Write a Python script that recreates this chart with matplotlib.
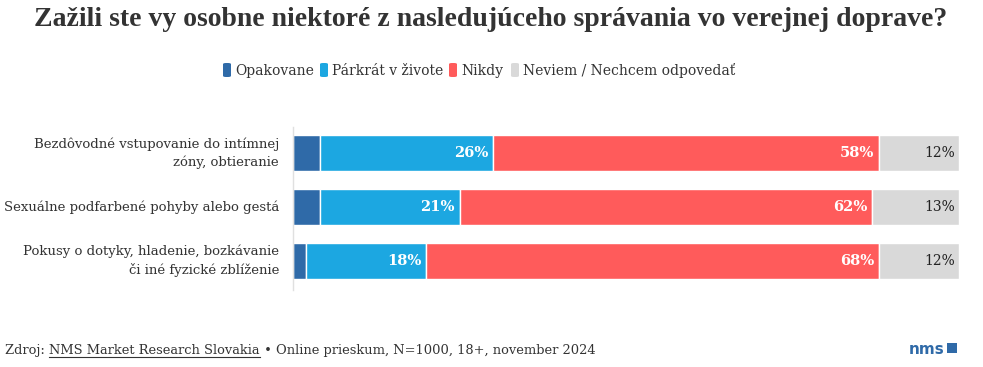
import numpy as np
import matplotlib
matplotlib.use("Agg")
from matplotlib import pyplot as plt
from matplotlib.patches import FancyBboxPatch, Rectangle

categories = ["Bezdôvodné vstupovanie do intímnej\nzóny, obtieranie",
              "Sexuálne podfarbené pohyby alebo gestá",
              "Pokusy o dotyky, hladenie, bozkávanie\nči iné fyzické zblíženie"]
series_names = ["Opakovane", "Párkrát v živote", "Nikdy", "Neviem / Nechcem odpovedať"]
opakovane = [4, 4, 2]
parkrat = [26, 21, 18]
nikdy = [58, 62, 68]
neviem = [12, 13, 12]

colors = ["#2f6aa8", "#1ca7e1", "#ff5b5b", "#d9d9d9"]
W, H = 983, 367
BODY = "DejaVu Serif"
plt.rcParams['font.family'] = [BODY, 'Liberation Serif']
TXT = "#333333"

fig = plt.figure(figsize=(W / 100, H / 100), dpi=100)

def px(x, y):
    return x / W, 1 - y / H

# bars axis
ax = fig.add_axes([293 / W, 1 - 290 / H, (959 - 293) / W, (290 - 127) / H])
y = np.arange(len(categories))
left = np.zeros(len(categories))
for name, vals, c in zip(series_names, [opakovane, parkrat, nikdy, neviem], colors):
    vals = np.array(vals, dtype=float)
    ax.barh(y, vals, left=left, height=0.67, color=c, edgecolor="white", linewidth=1)
    for yi, l, v in zip(y, left, vals):
        if name == "Opakovane":
            continue
        if name == "Neviem / Nechcem odpovedať":
            ax.text(l + v - 0.6, yi, f"{v:.0f}%", ha="right", va="center",
                    fontsize=10, color="#222222")
        else:
            ax.text(l + v - 0.7, yi, f"{v:.0f}%", ha="right", va="center",
                    fontsize=10.5, color="white", fontweight="bold")
    left += vals
ax.set_xlim(0, 100)
ax.set_ylim(2.54, -0.49)
ax.set_yticks(y)
ax.set_yticklabels(categories, fontsize=9.5, color=TXT, linespacing=1.5, va="center")
ax.tick_params(axis="y", length=0, pad=10)
ax.set_xticks([])
for s in ["top", "right", "bottom"]:
    ax.spines[s].set_visible(False)
ax.spines["left"].set_color("#e0e0e0")
ax.spines["left"].set_linewidth(1)

# title
fig.text(*px(491, 19), "Zažili ste vy osobne niektoré z nasledujúceho správania vo verejnej doprave?",
         ha="center", va="center", fontsize=20, fontweight="bold", color=TXT, family="Liberation Serif")

# legend
leg_x = [223, 320, 449, 511]
for name, c, lx in zip(series_names, colors, leg_x):
    fig.patches.append(FancyBboxPatch(px(lx, 77), 8 / W, 14 / H, boxstyle="round,pad=0,rounding_size=0.003",
                                      transform=fig.transFigure, facecolor=c, edgecolor="none"))
    fig.text(*px(lx + 12, 75), name, ha="left", va="baseline", fontsize=10, color=TXT)

# footer, pieces placed one after the other
renderer = fig.canvas.get_renderer()
pieces = ["Zdroj: ", "NMS Market Research Slovakia", " • Online prieskum, N=1000, 18+, november 2024"]
xcur = 5
for i, p in enumerate(pieces):
    t = fig.text(*px(xcur, 354), p, ha="left", va="baseline", fontsize=9.4, color=TXT)
    bb = t.get_window_extent(renderer)
    if i == 1:
        fig.add_artist(plt.Line2D([bb.x0 / W, bb.x1 / W], [1 - 357 / H, 1 - 357 / H],
                                  transform=fig.transFigure, color=TXT, linewidth=0.8))
    xcur = bb.x1

fig.text(*px(944, 354), "nms", ha="right", va="baseline", fontsize=11, fontweight="bold",
         color="#2f6aa8", family="DejaVu Sans")
fig.patches.append(Rectangle(px(947, 353), 10 / W, 10 / H, transform=fig.transFigure,
                             facecolor="#2f6aa8", edgecolor="none"))

fig.savefig("out.png", dpi=100, facecolor="white")
